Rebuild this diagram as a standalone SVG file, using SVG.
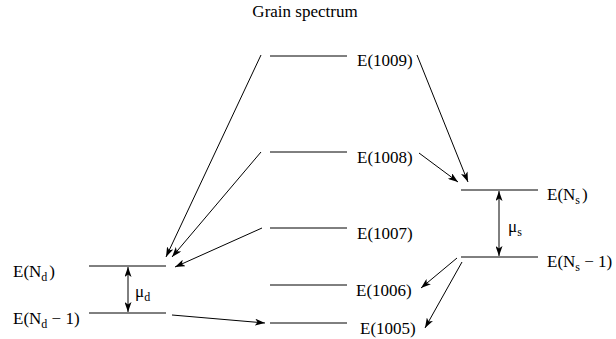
<svg xmlns="http://www.w3.org/2000/svg" width="616" height="339" viewBox="0 0 616 339">
<style>
text{font-family:"Liberation Serif","Times New Roman",serif;font-size:17px;fill:#000}
.sub{font-size:12px}
.lvl{stroke:#000;stroke-width:1;fill:none}
.arr{stroke:#000;stroke-width:1;fill:none;marker-end:url(#ah)}
.dbl{stroke:#000;stroke-width:1;fill:none;marker-end:url(#ah);marker-start:url(#ah)}
</style>
<defs>
<marker id="ah" markerUnits="userSpaceOnUse" markerWidth="11" markerHeight="7" refX="10" refY="3.5" orient="auto-start-reverse">
<path d="M0,0 L10,3.5 L0,7 L2.5,3.5 z" fill="#000"/>
</marker>
</defs>
<rect width="616" height="339" fill="#fff"/>
<text x="305" y="17" text-anchor="middle">Grain spectrum</text>
<g id="E1009"><line class="lvl" x1="270" y1="56" x2="347" y2="56"/><text x="357" y="66">E(1009)</text></g>
<g id="E1008"><line class="lvl" x1="270" y1="152" x2="347" y2="152"/><text x="357" y="163">E(1008)</text></g>
<g id="E1007"><line class="lvl" x1="270" y1="228" x2="347" y2="228"/><text x="357" y="239">E(1007)</text></g>
<g id="E1006"><line class="lvl" x1="270" y1="285" x2="347" y2="285"/><text x="356" y="296">E(1006)</text></g>
<g id="E1005"><line class="lvl" x1="270" y1="323" x2="347" y2="323"/><text x="360" y="334">E(1005)</text></g>
<g id="ENd"><line class="lvl" x1="89" y1="266" x2="166" y2="266"/><text x="13" y="277">E(N<tspan class="sub" dy="4">d</tspan><tspan dx="2" dy="-4">)</tspan></text></g>
<g id="ENd1"><line class="lvl" x1="89" y1="313" x2="166" y2="313"/><text x="13" y="324">E(N<tspan class="sub" dy="4">d</tspan><tspan dy="-4"> − 1)</tspan></text></g>
<g id="ENs"><line class="lvl" x1="461" y1="190" x2="538" y2="190"/><text x="547" y="200">E(N<tspan class="sub" dy="4">s</tspan><tspan dx="2" dy="-4">)</tspan></text></g>
<g id="ENs1"><line class="lvl" x1="461" y1="257" x2="538" y2="257"/><text x="547" y="267">E(N<tspan class="sub" dy="4">s</tspan><tspan dy="-4"> − 1)</tspan></text></g>
<g id="mud"><text x="135" y="297">μ<tspan class="sub" dy="4">d</tspan></text></g>
<g id="mus"><text x="508" y="232">μ<tspan class="sub" dy="4">s</tspan></text></g>
<g id="connectors">
<line class="dbl" x1="128" y1="267" x2="128" y2="312"/>
<line class="dbl" x1="499" y1="191" x2="499" y2="256"/>
<line class="arr" x1="261" y1="55" x2="166" y2="257"/>
<line class="arr" x1="261" y1="152" x2="172" y2="257"/>
<line class="arr" x1="262" y1="228" x2="175" y2="267"/>
<line class="arr" x1="172" y1="315" x2="265" y2="323"/>
<line class="arr" x1="417" y1="55" x2="468" y2="182"/>
<line class="arr" x1="419" y1="153" x2="458" y2="182"/>
<line class="arr" x1="457" y1="258" x2="421" y2="288"/>
<line class="arr" x1="462" y1="262" x2="425" y2="328"/>
</g>
</svg>
